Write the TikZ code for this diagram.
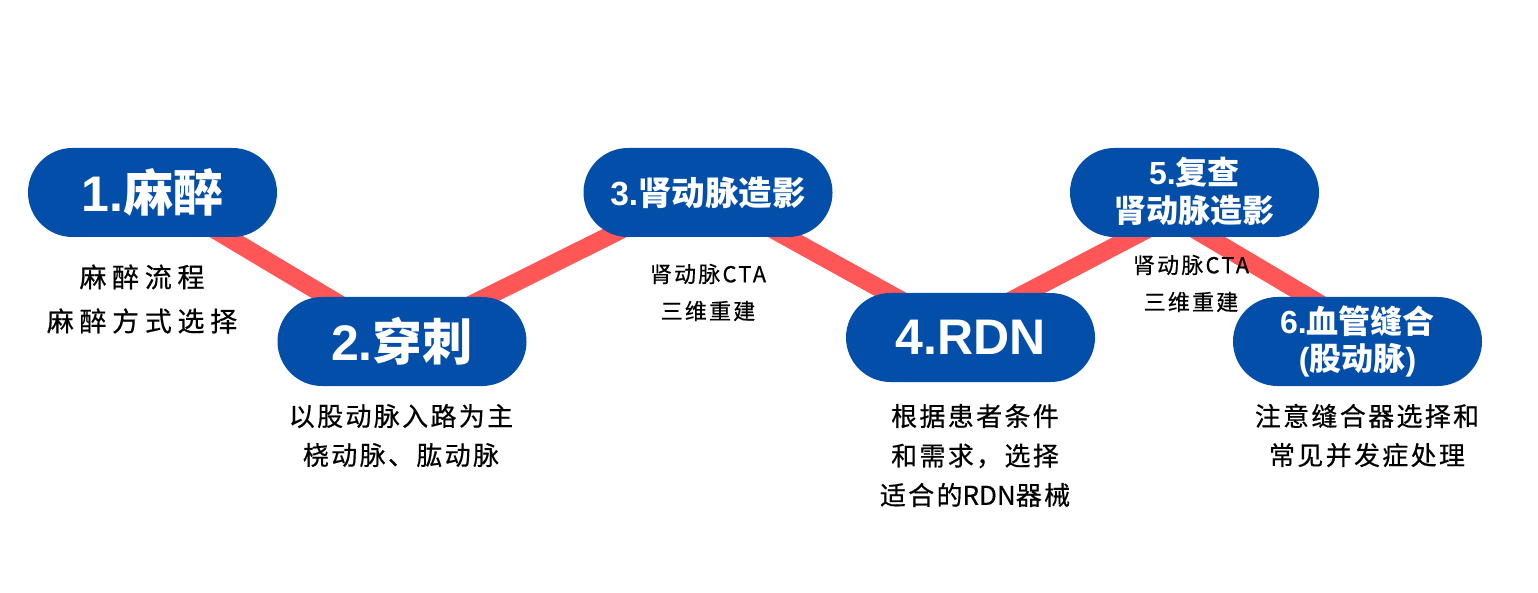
\documentclass[tikz,border=0pt]{standalone}
\usepackage{fontspec}
\setmainfont{Liberation Sans}
\newfontfamily\hanb{Noto Sans CJK SC}
\newfontfamily\notea[LetterSpace=21,FakeBold=0.5]{Noto Sans CJK SC}
\newfontfamily\noteb[LetterSpace=9,FakeBold=0.5]{Noto Sans CJK SC}
\newfontfamily\notec[LetterSpace=10,FakeBold=0.5]{Noto Sans CJK SC}
\newfontfamily\notetight[FakeBold=0.5]{Noto Sans CJK SC}
\usetikzlibrary{backgrounds}
\definecolor{pillblue}{HTML}{034EA9}
\definecolor{linkred}{HTML}{FF5757}
\tikzset{
  pill/.style={fill=pillblue,text=white,rounded corners=44.5pt,minimum width=249pt,minimum height=89pt,inner sep=0pt,align=center},
  bigpill/.style={pill,font=\fontsize{50}{54}\selectfont\bfseries},
  midpill/.style={pill,font=\fontsize{33.5}{38}\selectfont\bfseries},
  smallpill/.style={pill,font=\fontsize{32}{37.5}\selectfont\bfseries},
  link/.style={draw=linkred,line width=18pt},
  note/.style={align=center,inner sep=0pt,text=black},
}
\newcommand{\Bg}[1]{{\hanb\bfseries #1}}
\begin{document}
\begin{tikzpicture}[x=1pt,y=-1pt]
\useasboundingbox (0,0) rectangle (1538,593);
\node[bigpill] (n1) at (152.5,192.5) {\raisebox{1pt}{1.\Bg{麻醉}}};
\node[bigpill] (n2) at (402,341.5) {\raisebox{1pt}{2.\Bg{穿刺}}};
\node[midpill] (n3) at (708,192.5) {\raisebox{2pt}{3.\Bg{肾动脉造影}}};
\node[bigpill] (n4) at (970.5,337.5) {\raisebox{1pt}{4.RDN}};
\node[smallpill,inner ysep=0pt] (n5) at (1194.5,192.5) {5.\Bg{复查}\\\Bg{肾动脉造影}\\[-32pt]\mbox{}};
\node[smallpill] (n6) at (1357.5,341.5) {6.\Bg{血管缝合}\\(\Bg{股动脉})};
\begin{scope}[on background layer]
\fill[white] (0,0) rectangle (1538,593);
\draw[link] (n1.center) -- (n2.center);
\draw[link] ([xshift=-5pt]n2.center) -- ([xshift=-12pt]n3.center);
\draw[link] ([xshift=-2pt]n3.center) -- ([xshift=-2pt]n4.center);
\draw[link] ([xshift=-30pt]n4.center) -- ([xshift=23pt]n5.center);
\draw[link] ([xshift=-62pt]n5.center) -- ([xshift=26pt]n6.center);
\end{scope}
\node[note,font=\fontsize{27}{44}\selectfont\notea] (t1) at (142,299) {麻醉流程\\麻醉方式选择};
\node[note,font=\fontsize{26}{39}\selectfont\noteb] (t2) at (401,435.5) {以股动脉入路为主\\桡动脉、肱动脉};
\node[note,font=\fontsize{22}{37}\selectfont\notec] (t3) at (708,292.5) {肾动脉CTA\\三维重建};
\node[note,font=\fontsize{26}{39.5}\selectfont\noteb] (t4) at (975,455.5) {根据患者条件\\和需求，选择\\适合的{\notetight RDN}器械};
\node[note,font=\fontsize{22}{37}\selectfont\notec] (t5) at (1191,283.5) {肾动脉CTA\\三维重建};
\node[note,font=\fontsize{26}{39}\selectfont\noteb] (t6) at (1367,435.5) {注意缝合器选择和\\常见并发症处理};
\end{tikzpicture}
\end{document}
